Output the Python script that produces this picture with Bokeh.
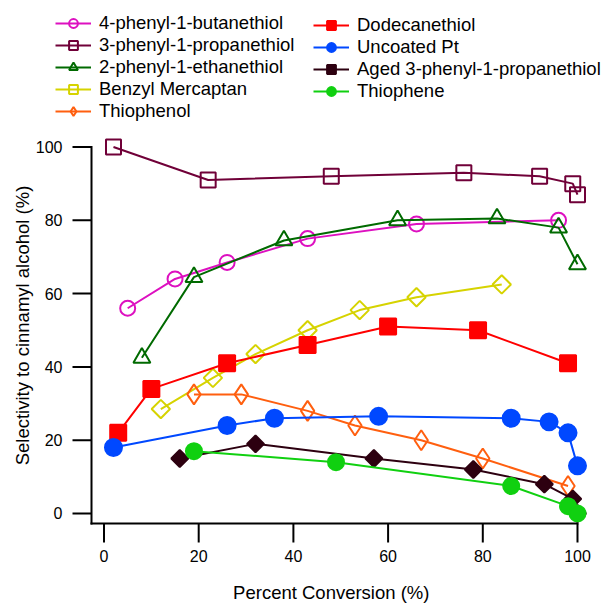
import math
from bokeh.plotting import figure
from bokeh.models import Legend, LegendItem, Range1d, Label, Arrow, ColumnDataSource
from bokeh.core.properties import value
from bokeh.embed import file_html
from bokeh.resources import INLINE

# ---- data ----
x_butane = [5, 15, 26, 43, 66, 96]
y_butane = [56, 64, 68.5, 75, 79, 80]

x_propane = [2, 22, 48, 76, 92, 99, 100]
y_propane = [100, 91, 92, 93, 92, 90, 87]

x_ethane = [8, 19, 38, 62, 83, 96, 100]
y_ethane = [42.5, 64.5, 74.5, 80, 80.5, 78, 68]

x_benzyl = [12, 23, 32, 43, 54, 66, 84]
y_benzyl = [28.5, 37, 43.5, 50, 55.5, 59, 62.5]

x_thiophenol = [19, 29, 43, 53, 67, 80, 98]
y_thiophenol = [32.5, 32.5, 28, 24, 20, 15, 7.5]

x_dodecane = [3, 10, 26, 43, 60, 79, 98]
y_dodecane = [22, 34, 41, 46, 51, 50, 41]

x_pt = [2, 26, 36, 58, 86, 94, 98, 100]
y_pt = [18, 24, 26, 26.5, 26, 25, 22, 13]

x_aged = [16, 32, 57, 78, 93, 99, 100]
y_aged = [15, 19, 15, 12, 8, 4, 0]

x_thiophene = [19, 49, 86, 98, 100]
y_thiophene = [17, 14, 7.5, 2, 0]

x_ticks = [0, 20, 40, 60, 80, 100]
y_ticks = [0, 20, 40, 60, 80, 100]
x_tick_labels = [str(t) for t in x_ticks]
y_tick_labels = [str(t) for t in y_ticks]

FONT = "Liberation Sans"

# the frame covers the whole canvas; axes are drawn at fixed data locations
W, H = 609, 604
X0, X1 = -21.86, 106.76
Y0, Y1 = -24.83, 139.97
XAX_AT = -2.64   # x position of the y axis rule
YAX_AT = -2.73   # y position of the x axis rule
TICK_PX = 19
TICK_DX = TICK_PX * (X1 - X0) / W   # tick length in x units
TICK_DY = TICK_PX * (Y1 - Y0) / H   # tick length in y units

p = figure(width=W, height=H, output_backend="svg", toolbar_location=None,
           x_range=Range1d(X0, X1), y_range=Range1d(Y0, Y1),
           x_axis_location=None, y_axis_location=None,
           min_border=0)
p.outline_line_color = None
p.xgrid.visible = False
p.ygrid.visible = False
p.background_fill_color = "white"
p.border_fill_color = "white"

# axis rules and tick marks as head-less arrow annotations in data units
rule_src = ColumnDataSource(dict(
    x0=[XAX_AT, XAX_AT], y0=[YAX_AT, YAX_AT],
    x1=[max(x_ticks), XAX_AT], y1=[YAX_AT, max(y_ticks)]))
p.add_layout(Arrow(x_start="x0", y_start="y0", x_end="x1", y_end="y1", source=rule_src,
                   start=None, end=None, line_color="black", line_width=2,
                   line_cap="square"))
tick_src = ColumnDataSource(dict(
    x0=x_ticks + [XAX_AT] * len(y_ticks),
    y0=[YAX_AT] * len(x_ticks) + y_ticks,
    x1=x_ticks + [XAX_AT - TICK_DX] * len(y_ticks),
    y1=[YAX_AT - TICK_DY] * len(x_ticks) + y_ticks))
p.add_layout(Arrow(x_start="x0", y_start="y0", x_end="x1", y_end="y1", source=tick_src,
                   start=None, end=None, line_color="black", line_width=2))

p.text(x=x_ticks, y=[YAX_AT] * len(x_ticks), text=x_tick_labels, y_offset=TICK_PX + 7,
       text_align="center", text_baseline="top", text_font=value(FONT),
       text_font_size="16px", text_color="black")
p.text(x=[XAX_AT] * len(y_ticks), y=y_ticks, text=y_tick_labels, x_offset=-(TICK_PX + 10),
       text_align="right", text_baseline="middle", text_font=value(FONT),
       text_font_size="16px", text_color="black")

series = [
    ("4-phenyl-1-butanethiol", x_butane, y_butane, "#dd10c0", "circle", 15, False, 0),
    ("3-phenyl-1-propanethiol", x_propane, y_propane, "#700038", "square", 15, False, 0),
    ("2-phenyl-1-ethanethiol", x_ethane, y_ethane, "#006a00", "triangle", 17, False, 0),
    ("Benzyl Mercaptan", x_benzyl, y_benzyl, "#d6d300", "square", 13, False, math.pi / 4),
    ("Thiophenol", x_thiophenol, y_thiophenol, "#ff5f0f", "diamond", 20, False, 0),
    ("Dodecanethiol", x_dodecane, y_dodecane, "#ff0000", "square", 16, True, 0),
    ("Uncoated Pt", x_pt, y_pt, "#0048ff", "circle", 17, True, 0),
    ("Aged 3-phenyl-1-propanethiol", x_aged, y_aged, "#2d0010", "square", 12, True, math.pi / 4),
    ("Thiophene", x_thiophene, y_thiophene, "#10d010", "circle", 16, True, 0),
]

items = []
for name, xs, ys, col, mk, sz, filled, ang in series:
    lr = p.line(xs, ys, line_color=col, line_width=2)
    sr = p.scatter(xs, ys, marker=mk, size=sz, angle=ang,
                   line_color=col, line_width=2,
                   fill_color=col if filled else None)
    items.append(LegendItem(label=name, renderers=[lr, sr]))

def make_legend(its, loc):
    lg = Legend(items=its, location=loc, orientation="vertical")
    lg.label_text_font = FONT
    lg.label_text_font_size = "18.5px"
    lg.label_text_color = "black"
    lg.glyph_width = 36
    lg.glyph_height = 22
    lg.label_height = 22
    lg.spacing = 0
    lg.padding = 0
    lg.margin = 0
    lg.label_standoff = 8
    lg.border_line_color = None
    lg.background_fill_alpha = 0
    return lg

# location = bottom-left corner of each legend block, in pixels from the frame's bottom-left
p.add_layout(make_legend(items[:5], (55, 482)), "center")
p.add_layout(make_legend(items[5:], (313, 502)), "center")

p.add_layout(Label(x=48.0, y=-21.6, text="Percent Conversion (%)",
                   text_font=FONT, text_font_size="18.5px", text_color="black",
                   text_align="center", text_baseline="middle"))
p.add_layout(Label(x=-17.3, y=51.3, text="Selectivity to cinnamyl alcohol (%)",
                   angle=math.pi / 2, text_font=FONT, text_font_size="18.5px",
                   text_color="black", text_align="center", text_baseline="middle"))

open("out.html", "w").write(file_html(p, INLINE))
